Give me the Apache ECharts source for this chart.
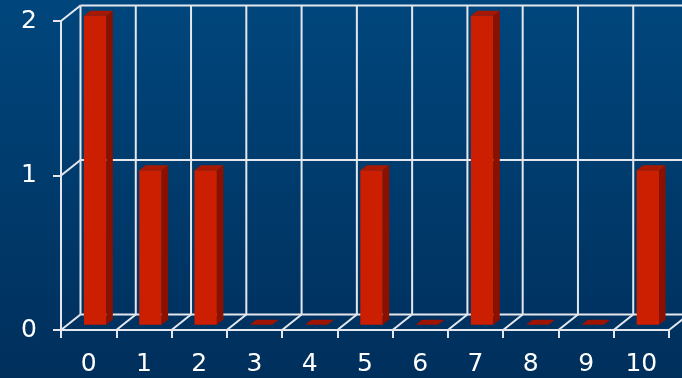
<!DOCTYPE html>
<html>
<head>
<meta charset="utf-8">
<style>
  html, body { margin: 0; padding: 0; background: #003a6b; }
  #chart { width: 682px; height: 378px; }
</style>
<script src="https://cdn.jsdelivr.net/npm/echarts@6/dist/echarts.min.js"></script>
</head>
<body>
<div id="chart"></div>
<script>
// Category labels and bar heights
const categories = ['0', '1', '2', '3', '4', '5', '6', '7', '8', '9', '10'];
const counts = [2, 1, 1, 0, 0, 1, 0, 2, 0, 0, 1];
const yTicks = [0, 1, 2];

// 3D depth of the box (pixels) and bar styling
const DEPTH_X = 19.5;
const DEPTH_Y = -15.5;
const BAR_RATIO = 0.405;
const LINE = { stroke: '#e4e8ee', lineWidth: 2 };
const FRONT = '#cc1e00';
const SIDE = '#8c1000';
const TOP = '#a81800';

const chart = echarts.init(document.getElementById('chart'), null, { renderer: 'canvas' });

function line(x1, y1, x2, y2) {
  return { type: 'line', shape: { x1, y1, x2, y2 }, style: LINE, silent: true };
}

// Back wall, floor and the left wall connectors
function renderFrame(params, api) {
  const band = api.size([1, 0])[0];
  const c0 = api.coord([0, 0]);
  const left = c0[0] - band / 2;
  const y0 = c0[1];
  const n = categories.length;
  const right = left + band * n;
  const yMax = api.coord([0, yTicks[yTicks.length - 1]])[1];
  const children = [];
  // back wall verticals at every category boundary
  for (let k = 0; k <= n; k++) {
    const xb = left + band * k + DEPTH_X;
    children.push(line(xb, y0 + DEPTH_Y, xb, yMax + DEPTH_Y));
  }
  // back wall horizontals and left-wall connectors at each tick value
  yTicks.forEach(function (v) {
    const y = api.coord([0, v])[1];
    children.push(line(left + DEPTH_X, y + DEPTH_Y, right + DEPTH_X, y + DEPTH_Y));
    children.push(line(left, y, left + DEPTH_X, y + DEPTH_Y));
  });
  // floor connectors
  for (let k = 1; k <= n; k++) {
    const xf = left + band * k;
    children.push(line(xf, y0, xf + DEPTH_X, y0 + DEPTH_Y));
  }
  return { type: 'group', children: children };
}

// A bar as a box sitting in the middle third of the depth
function renderBar(params, api) {
  const idx = api.value(0);
  const val = api.value(1);
  const band = api.size([1, 0])[0];
  const c = api.coord([idx, 0]);
  const t = api.coord([idx, val]);
  const w = band * BAR_RATIO;
  const ox1 = DEPTH_X / 3, oy1 = DEPTH_Y / 3;
  const ox2 = DEPTH_X * 2 / 3, oy2 = DEPTH_Y * 2 / 3;
  const xl = c[0] - w / 2, xr = c[0] + w / 2;
  const yb = c[1], yt = t[1];
  const children = [];
  if (yb - yt > 0.5) {
    children.push({
      type: 'rect',
      shape: { x: xl + ox1, y: yt + oy1, width: w, height: yb - yt },
      style: { fill: FRONT }
    });
    children.push({
      type: 'polygon',
      shape: { points: [[xr + ox1, yt + oy1], [xr + ox2, yt + oy2], [xr + ox2, yb + oy2], [xr + ox1, yb + oy1]] },
      style: { fill: SIDE }
    });
  }
  children.push({
    type: 'polygon',
    shape: { points: [[xl + ox1, yt + oy1], [xl + ox2, yt + oy2], [xr + ox2, yt + oy2], [xr + ox1, yt + oy1]] },
    style: { fill: yb - yt > 0.5 ? TOP : '#9e1400' }
  });
  return { type: 'group', children: children };
}

chart.setOption({
  animation: false,
  backgroundColor: {
    type: 'linear', x: 0, y: 0, x2: 0, y2: 1,
    colorStops: [{ offset: 0, color: '#00467c' }, { offset: 1, color: '#002f5c' }]
  },
  grid: { left: 61, right: 13, top: 21, bottom: 48, containLabel: false },
  xAxis: {
    type: 'category',
    data: categories,
    boundaryGap: true,
    axisLine: { show: true, lineStyle: { color: '#e4e8ee', width: 2 } },
    axisTick: { show: true, length: 8, lineStyle: { color: '#e4e8ee', width: 2 } },
    axisLabel: { color: '#ffffff', fontSize: 25, fontFamily: 'DejaVu Sans', margin: 22 },
    splitLine: { show: false }
  },
  yAxis: {
    type: 'value',
    min: 0, max: 2, interval: 1,
    axisLine: { show: true, lineStyle: { color: '#e4e8ee', width: 2 } },
    axisTick: { show: true, length: 8, lineStyle: { color: '#e4e8ee', width: 2 } },
    axisLabel: { color: '#ffffff', fontSize: 25, fontFamily: 'DejaVu Sans', margin: 24 },
    splitLine: { show: false }
  },
  series: [
    {
      type: 'custom',
      renderItem: renderFrame,
      data: [[0, 0]],
      clip: false,
      z: 1,
      silent: true
    },
    {
      type: 'custom',
      renderItem: renderBar,
      data: counts.map(function (v, i) { return [i, v]; }),
      encode: { x: 0, y: 1 },
      clip: false,
      z: 2,
      silent: true
    }
  ]
});
</script>
</body>
</html>
